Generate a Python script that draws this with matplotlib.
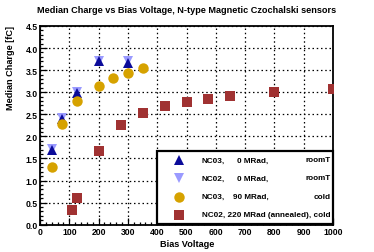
import matplotlib
matplotlib.use("Agg")
import matplotlib.pyplot as plt
from matplotlib.ticker import MultipleLocator
from matplotlib.patches import Rectangle

plt.rcParams['font.family'] = ['Liberation Sans', 'DejaVu Sans']

# Data
v_nc03_0 = [40, 75, 125, 200, 300]
q_nc03_0 = [1.70, 2.40, 2.98, 3.70, 3.67]
v_nc02_0 = [40, 75, 125, 200, 300]
q_nc02_0 = [1.72, 2.42, 3.01, 3.71, 3.70]
v_nc03_90 = [40, 75, 125, 200, 250, 300, 350]
q_nc03_90 = [1.31, 2.28, 2.81, 3.14, 3.33, 3.44, 3.55]
v_nc02_220 = [110, 125, 200, 275, 350, 425, 500, 575, 650, 800, 1000]
q_nc02_220 = [0.34, 0.61, 1.68, 2.25, 2.53, 2.69, 2.79, 2.84, 2.92, 3.01, 3.07]

col_a = ["NC03,", "NC02,", "NC03,", "NC02, 220 MRad (annealed), cold"]
col_b = ["0 MRad,", "0 MRad,", "90 MRad,", ""]
col_c = ["roomT", "roomT", "cold", ""]

title = "Median Charge vs Bias Voltage, N-type Magnetic Czochalski sensors"

W, H = 374, 253
fig = plt.figure(figsize=(W / 100, H / 100), dpi=100)
x0, x1, ytop, ybot = 40, 333, 27, 225.7
ax = fig.add_axes([x0 / W, 1 - ybot / H, (x1 - x0) / W, (ybot - ytop) / H])

styles = [
    dict(marker='^', color='#0b0b99', ms=7.5),
    dict(marker='v', color='#9a9aff', ms=7.5),
    dict(marker='o', color='#d6a200', ms=7.5),
    dict(marker='s', color='#a03232', ms=7.0),
]
series = [(v_nc02_0, q_nc02_0, styles[1]), (v_nc03_0, q_nc03_0, styles[0]),
          (v_nc03_90, q_nc03_90, styles[2]), (v_nc02_220, q_nc02_220, styles[3])]
for v, q, st in series:
    ax.plot(v, q, linestyle='none', marker=st['marker'], color=st['color'],
            markersize=st['ms'], markeredgewidth=0, zorder=3)

ax.set_xlim(0, 1000)
ax.set_ylim(0, 4.5)
ax.xaxis.set_major_locator(MultipleLocator(100))
ax.xaxis.set_minor_locator(MultipleLocator(20))
ax.yaxis.set_major_locator(MultipleLocator(0.5))
ax.yaxis.set_minor_locator(MultipleLocator(0.1))
ax.yaxis.set_major_formatter(matplotlib.ticker.FormatStrFormatter('%.1f'))
ax.grid(True, which='major', color='black', linestyle=(0, (1.2, 2.2)), linewidth=0.9)
ax.set_axisbelow(True)
ax.tick_params(which='both', direction='in', top=False, right=False,
               labelsize=6.2, pad=1.5, width=0.9)
ax.tick_params(which='major', length=5)
ax.tick_params(which='minor', length=2.5)
for lab in ax.get_xticklabels() + ax.get_yticklabels():
    lab.set_fontweight('bold')
for s in ax.spines.values():
    s.set_linewidth(1.3)

fig.text(187 / W, 1 - 10.5 / H, title, ha='center', va='center',
         fontsize=6.6, fontweight='bold')
fig.text(187 / W, 1 - 245 / H, "Bias Voltage", ha='center', va='center',
         fontsize=6.6, fontweight='bold')
fig.text(11 / W, 1 - 26 / H, "Median Charge [fC]", ha='center', va='top',
         rotation=90, fontsize=6.6, fontweight='bold')

# Legend (manual, axes fraction coords)
def fx(px):
    return (px - x0) / (x1 - x0)

def fy(py):
    return (ybot - py) / (ybot - ytop)

ax.add_patch(Rectangle((fx(157.3), fy(225.0)), fx(333) - fx(157.3), fy(152) - fy(225.0),
                       transform=ax.transAxes, facecolor='white', edgecolor='black',
                       linewidth=1.6, zorder=5, clip_on=False))
rows = [161, 179, 197.7, 216]
for i, st in enumerate(styles):
    yy = fy(rows[i])
    ax.plot([fx(179.3)], [yy], transform=ax.transAxes, linestyle='none',
            marker=st['marker'], color=st['color'], markersize=st['ms'],
            markeredgewidth=0, zorder=6, clip_on=False)
    ax.text(fx(201.7), yy, col_a[i], transform=ax.transAxes, ha='left', va='center',
            fontsize=5.9, fontweight='bold', zorder=7)
    if col_b[i]:
        ax.text(fx(268.5), yy, col_b[i], transform=ax.transAxes, ha='right', va='center',
                fontsize=5.9, fontweight='bold', zorder=7)
    if col_c[i]:
        ax.text(fx(331), yy, col_c[i], transform=ax.transAxes, ha='right', va='center',
                fontsize=5.9, fontweight='bold', zorder=7)

fig.savefig("out.png", dpi=100)
